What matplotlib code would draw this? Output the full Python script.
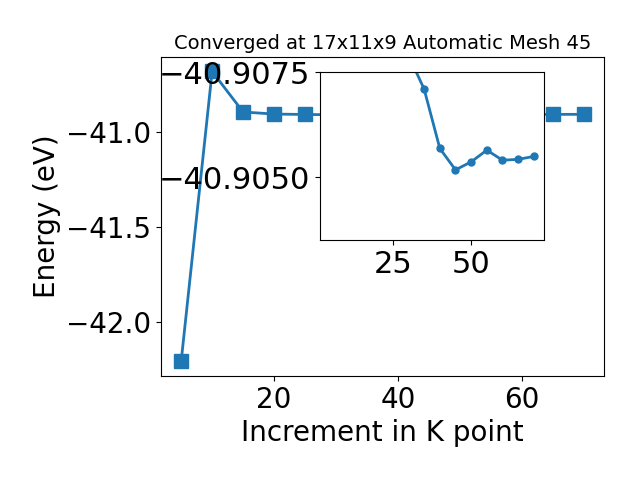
import numpy as np
import matplotlib
matplotlib.use('Agg')
import matplotlib.pyplot as plt

# Data
kpts = [5, 10, 15, 20, 25, 30, 35, 40, 45, 50, 55, 60, 65, 70]
energy = [-42.205, -40.68, -40.893, -40.904, -40.906, -40.9079, -40.90709,
          -40.90568, -40.90517, -40.90536, -40.90564, -40.90540, -40.90542, -40.90549]

kpts_zoom = [30, 35, 40, 45, 50, 55, 60, 65, 70]
energy_zoom = [-40.9079, -40.90709, -40.90568, -40.90517, -40.90536,
               -40.90564, -40.90540, -40.90542, -40.90549]

fig = plt.figure(figsize=(6.4, 4.8), dpi=100)
ax = fig.add_axes([0.2516, 0.2167, 0.6921, 0.6646])
ax.plot(kpts, energy, marker='s', markersize=10, linewidth=2, color='#1f77b4')
ax.set_xlabel('Increment in K point', fontsize=20)
ax.set_ylabel('Energy (eV)', fontsize=20)
ax.set_title('Converged at 17x11x9 Automatic Mesh 45', fontsize=14)
ax.tick_params(labelsize=20)
ax.set_xticks([20, 40, 60])
ax.set_yticks([-42.0, -41.5, -41.0])

# inset
axin = fig.add_axes([0.5, 0.5, 0.35, 0.35])
axin.plot(kpts_zoom, energy_zoom, marker='o', markersize=5, linewidth=2, color='#1f77b4')
axin.set_xlim(ax.get_xlim())
axin.set_ylim(-40.9035, -40.9075)
axin.set_xticks([25, 50])
axin.set_yticks([-40.9075, -40.9050])
axin.set_yticklabels(['\u221240.9075', '\u221240.9050'])
axin.tick_params(labelsize=22)

fig.savefig('out.png', dpi=100)
